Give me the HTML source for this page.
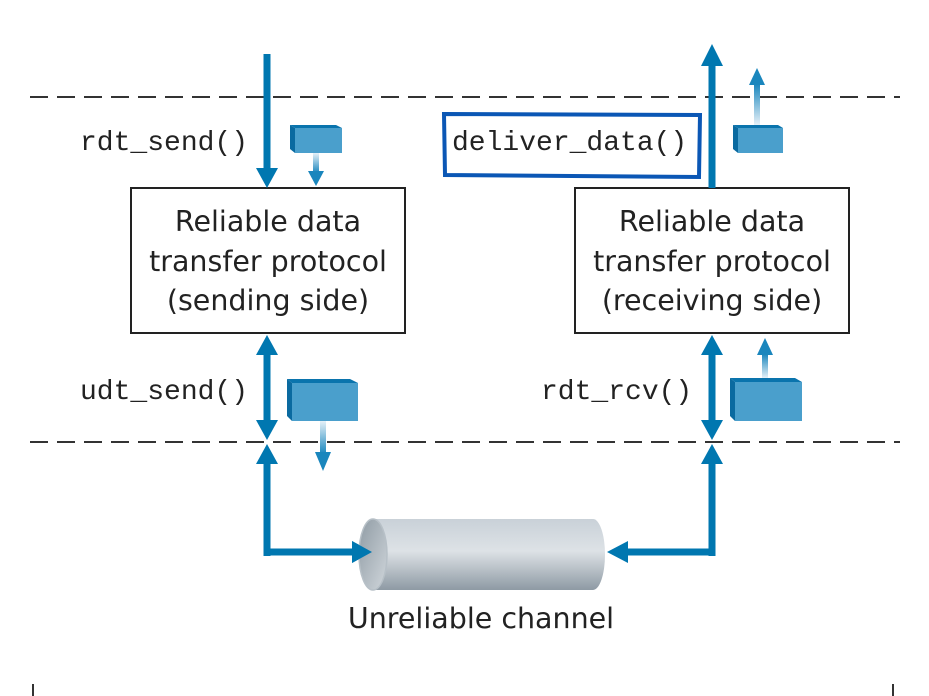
<!DOCTYPE html>
<html><head><style>
body{margin:0;background:#fff;}
svg{display:block}
.mono{font-family:"Liberation Mono",monospace;font-size:28px;fill:#222}
.sans{font-family:"DejaVu Sans","Liberation Sans",sans-serif;font-size:28.5px;fill:#222}
</style></head><body>
<svg width="929" height="696" viewBox="0 0 929 696" xmlns="http://www.w3.org/2000/svg">
<defs>
<linearGradient id="gd" x1="0" y1="0" x2="0" y2="1"><stop offset="0" stop-color="#e6f1f8"/><stop offset="1" stop-color="#1a86bd"/></linearGradient>
<linearGradient id="gu" x1="0" y1="1" x2="0" y2="0"><stop offset="0" stop-color="#e6f1f8"/><stop offset="1" stop-color="#1a86bd"/></linearGradient>
<linearGradient id="cyl" x1="0" y1="0" x2="0" y2="1"><stop offset="0" stop-color="#c9d1d8"/><stop offset="0.45" stop-color="#dde2e6"/><stop offset="1" stop-color="#8e9aa4"/></linearGradient>
<linearGradient id="cap" x1="0" y1="0" x2="1" y2="1"><stop offset="0" stop-color="#8f9ba4"/><stop offset="1" stop-color="#d0d6db"/></linearGradient>
</defs>
<g stroke="#333" stroke-width="2" stroke-dasharray="18,9">
<line x1="30" y1="97" x2="900" y2="97"/>
<line x1="30" y1="442" x2="900" y2="442"/>
</g>
<line x1="33" y1="684" x2="33" y2="696" stroke="#333" stroke-width="2"/>
<line x1="893" y1="684" x2="893" y2="696" stroke="#333" stroke-width="2"/>
<rect x="131" y="188" width="274" height="145" fill="#fff" stroke="#222" stroke-width="2"/>
<rect x="575" y="188" width="274" height="145" fill="#fff" stroke="#222" stroke-width="2"/>
<text class="sans" x="268" y="231" text-anchor="middle">Reliable data</text>
<text class="sans" x="268" y="271" text-anchor="middle">transfer protocol</text>
<text class="sans" x="268" y="310" text-anchor="middle">(sending side)</text>
<text class="sans" x="712" y="231" text-anchor="middle">Reliable data</text>
<text class="sans" x="712" y="271" text-anchor="middle">transfer protocol</text>
<text class="sans" x="712" y="310" text-anchor="middle">(receiving side)</text>
<text class="mono" x="80" y="150">rdt_send()</text>
<text class="mono" x="80" y="399">udt_send()</text>
<text class="mono" x="541" y="399">rdt_rcv()</text>
<text class="mono" x="452" y="150">deliver_data()</text>
<polygon points="444,114 700,115 699,177 445,175" fill="none" stroke="#0b57b5" stroke-width="4"/>
<g fill="#0077b0">
<rect x="263.5" y="54" width="7" height="116"/><polygon points="256,168 278,168 267,188"/>
<rect x="263.5" y="352" width="7" height="72"/><polygon points="256,355 278,355 267,335"/><polygon points="256,420 278,420 267,440"/>
<rect x="263.5" y="462" width="7" height="94"/><polygon points="256,464 278,464 267,444"/>
<rect x="263.5" y="548.5" width="90" height="7"/><polygon points="352,541 352,563 372,552"/>
<rect x="708.5" y="64" width="7" height="124"/><polygon points="701,66 723,66 712,44"/>
<rect x="708.5" y="352" width="7" height="72"/><polygon points="701,355 723,355 712,335"/><polygon points="701,420 723,420 712,440"/>
<rect x="708.5" y="462" width="7" height="94"/><polygon points="701,464 723,464 712,444"/>
<rect x="626" y="548.5" width="89.5" height="7"/><polygon points="628,541 628,563 607,552"/>
</g>
<g>
<polygon points="290,125 336,125 342,128 295,128" fill="#0a74ad"/>
<polygon points="290,125 295,128 295,153 290,149" fill="#0a6aa0"/>
<rect x="295" y="128" width="47" height="25" fill="#4a9fcc"/>
<rect x="313" y="153" width="6" height="20" fill="url(#gd)"/><polygon points="308,171 324,171 316,186" fill="#1a86bd"/>

<polygon points="287,379 350,379 358,383 292,383" fill="#0a74ad"/>
<polygon points="287,379 292,383 292,421 287,416" fill="#0a6aa0"/>
<rect x="292" y="383" width="66" height="38" fill="#4a9fcc"/>
<rect x="320" y="421" width="6" height="33" fill="url(#gd)"/><polygon points="315,452 331,452 323,471" fill="#1a86bd"/>

<polygon points="733,125 778,125 783,128 738,128" fill="#0a74ad"/>
<polygon points="733,125 738,128 738,153 733,149" fill="#0a6aa0"/>
<rect x="738" y="128" width="45" height="25" fill="#4a9fcc"/>
<rect x="754" y="84" width="6" height="41" fill="url(#gu)"/><polygon points="749,85 765,85 757,68" fill="#1a86bd"/>

<polygon points="730,378 795,378 802,382 735,382" fill="#0a74ad"/>
<polygon points="730,378 735,382 735,421 730,416" fill="#0a6aa0"/>
<rect x="735" y="382" width="67" height="39" fill="#4a9fcc"/>
<rect x="762" y="354" width="6" height="24" fill="url(#gu)"/><polygon points="757,355 773,355 765,338" fill="#1a86bd"/>
</g>
<rect x="373" y="519" width="220" height="71" fill="url(#cyl)"/>
<ellipse cx="593" cy="554.5" rx="12" ry="35.5" fill="url(#cyl)"/>
<ellipse cx="373" cy="554.5" rx="14" ry="35.5" fill="url(#cap)" stroke="#b7c0c7" stroke-width="1.5"/>
<polygon points="352,541 352,563 372,552" fill="#0077b0"/>
<text class="sans" x="481" y="628" text-anchor="middle">Unreliable channel</text>
</svg>
</body></html>
